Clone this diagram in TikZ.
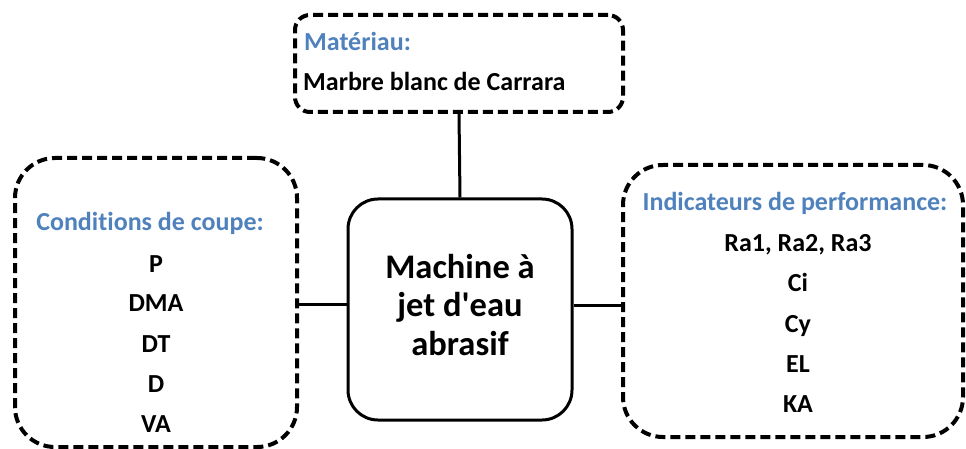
\documentclass[tikz,border=0pt]{standalone}
\usepackage{fontspec}
\setmainfont{Carlito}[Ligatures={TeXOff,NoCommon}]
\definecolor{titleblue}{RGB}{79,129,189}
\tikzset{
  dashbox/.style={draw=black, line width=4pt, dash pattern=on 10pt off 5pt, rounded corners=#1, inner sep=0pt},
  mainbox/.style={draw=black, line width=3pt, rounded corners=30pt, inner sep=0pt, minimum width=224pt, minimum height=221pt},
  conn/.style={draw=black, line width=3pt},
  ttl/.style={font=\fontsize{26}{30}\selectfont\bfseries, text=titleblue, inner sep=0pt, anchor=base},
  itm/.style={font=\fontsize{26}{30}\selectfont\bfseries, text=black, inner sep=0pt, anchor=base},
  big/.style={font=\fontsize{34.5}{38}\selectfont\bfseries, text=black, inner sep=0pt, anchor=base}
}
\begin{document}
\begin{tikzpicture}[x=1pt,y=-1pt]
\useasboundingbox (0,0) rectangle (966,449);
% boxes
\node[dashbox=15pt, minimum width=328pt, minimum height=97pt] (top) at (459,63.5) {};
\node[mainbox] (center) at (460,309.5) {};
\node[dashbox=40pt, minimum width=282pt, minimum height=289pt] (left) at (156,302.5) {};
\node[dashbox=40pt, minimum width=340pt, minimum height=272pt] (right) at (793,301) {};
% connectors
\coordinate (ly) at (0,304);
\coordinate (ry) at (0,305);
\draw[conn] (top.south) -- (center.north);
\draw[conn] (left.east |- ly) -- (center.west |- ly);
\draw[conn] (center.east |- ry) -- (right.west |- ry);
% top texts
\node[ttl, anchor=base west] (tt) at (304,51) {Matériau:};
\node[itm, anchor=base west] (t1) at (303,91) {Marbre blanc de Carrara};
% center text
\node[big] (c1) at (460,278) {Machine à};
\node[big] (c2) at (460,316.5) {jet d'eau};
\node[big] (c3) at (460,355) {abrasif};
% left texts
\node[ttl] (lt) at (150,230) {Conditions de coupe:};
\node[itm] (l1) at (156,272) {P};
\node[itm] (l2) at (156,311.5) {DMA};
\node[itm] (l3) at (156,352) {DT};
\node[itm] (l4) at (156,392) {D};
\node[itm] (l5) at (156,432.5) {VA};
% right texts
\node[ttl] (rt) at (795,211) {Indicateurs de performance:};
\node[itm] (r1) at (798,251) {Ra1, Ra2, Ra3};
\node[itm] (r2) at (798,291.5) {Ci};
\node[itm] (r3) at (798,332) {Cy};
\node[itm] (r4) at (798,372) {EL};
\node[itm] (r5) at (798,412) {KA};
\end{tikzpicture}
\end{document}
